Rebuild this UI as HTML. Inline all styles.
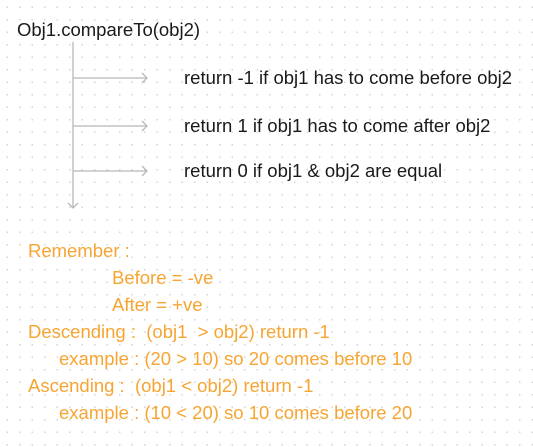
<!DOCTYPE html>
<html><head><style>
body{margin:0;width:533px;height:447px;background:#fff;position:relative;overflow:hidden;
font-family:"Liberation Sans",sans-serif;
background-image:radial-gradient(circle,#d4d4d4 0.7px,transparent 0.9px);background-size:12.5px 12.5px;background-position:1px 1px}
.t{position:absolute;font-size:18.5px;white-space:pre;line-height:22px;color:#1a1a1a}
.o{color:#f7a532}
</style></head><body>
<div class="t" style="left:17px;top:19px">Obj1.compareTo(obj2)</div>
<svg width="533" height="447" style="position:absolute;left:0;top:0" fill="none" stroke="#b8b8b8" stroke-width="1.3">
<line x1="73" y1="42" x2="73" y2="208"/>
<polyline points="68,203 73,208 78,203"/>
<line x1="73" y1="78" x2="147" y2="78"/><polyline points="142,73 147,78 142,83"/>
<line x1="73" y1="126" x2="147" y2="126"/><polyline points="142,121 147,126 142,131"/>
<line x1="73" y1="171" x2="147" y2="171"/><polyline points="142,166 147,171 142,176"/>
</svg>
<div class="t" style="left:184px;top:67px">return -1 if obj1 has to come before obj2</div>
<div class="t" style="left:184px;top:115px">return 1 if obj1 has to come after obj2</div>
<div class="t" style="left:184px;top:160px">return 0 if obj1 &amp; obj2 are equal</div>
<div class="t o" style="left:28px;top:240px">Remember :</div>
<div class="t o" style="left:112px;top:267px">Before = -ve</div>
<div class="t o" style="left:112px;top:294px">After = +ve</div>
<div class="t o" style="left:28px;top:321px">Descending :  (obj1  &gt; obj2) return -1</div>
<div class="t o" style="left:59px;top:348px">example : (20 &gt; 10) so 20 comes before 10</div>
<div class="t o" style="left:28px;top:375px">Ascending :  (obj1 &lt; obj2) return -1</div>
<div class="t o" style="left:59px;top:402px">example : (10 &lt; 20) so 10 comes before 20</div>
</body></html>
